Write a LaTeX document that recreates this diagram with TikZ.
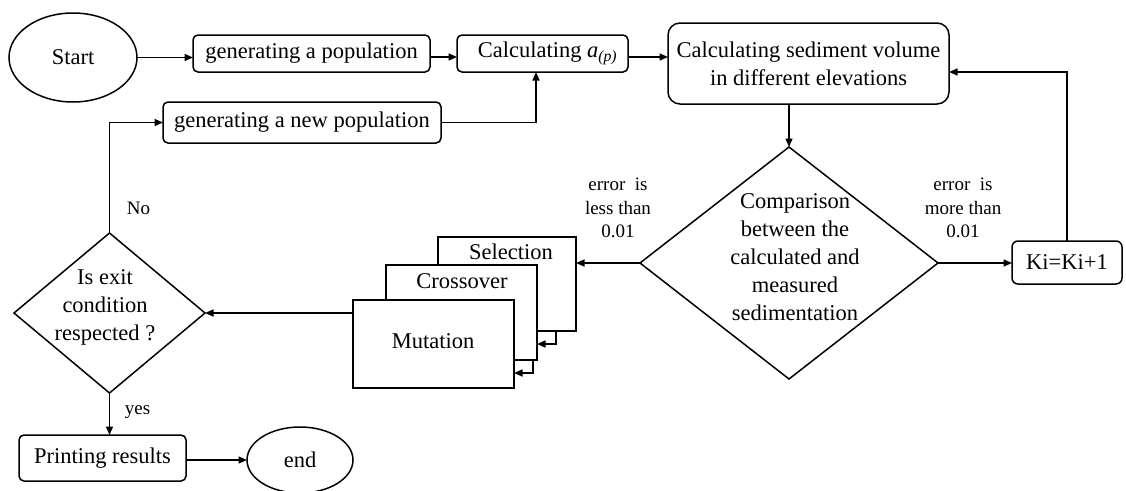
\documentclass[tikz,border=0pt]{standalone}
\usepackage{fontspec}
\setmainfont{Liberation Serif}
\usetikzlibrary{shapes.geometric,arrows.meta,calc}
\begin{document}
\begin{tikzpicture}[x=1pt,y=-1pt,
  every node/.style={font=\fontsize{22.5}{28}\selectfont, inner sep=0pt, outer sep=0pt},
  box/.style={draw, line width=1.5pt, rounded corners=5pt},
  sq/.style={draw, line width=1.5pt, fill=white},
  ell/.style={draw, ellipse, line width=1.5pt},
  dia/.style={draw, diamond, line width=1.5pt},
  lab/.style={font=\fontsize{19}{23.5}\selectfont, align=center},
  arr/.style={line width=1.5pt, -{Triangle[length=8.5pt,width=7pt]}}]
\clip (0,0) rectangle (1126,490);
% top row
\node[ell, minimum width=128pt, minimum height=89pt] (start) at (73,57.5) {Start};
\node[box, minimum width=237pt, minimum height=37pt] (gen) at (311.5,53.5) {generating a population};
\node[box, minimum width=171pt, minimum height=37pt] (calc) at (542.5,53.5) {\hspace{10pt}Calculating \textit{a}\textsubscript{\textit{(p)}}};
\node[box, rounded corners=12pt, minimum width=281pt, minimum height=81pt, align=center] (sed) at (808.5,63.5) {Calculating sediment volume\\in different elevations};
\node[box, minimum width=278pt, minimum height=41pt] (newpop) at (302,122.5) {generating a new population};
% comparison
\node[dia, minimum width=298pt, minimum height=232pt] (cmp) at (789,263) {};
\node[align=center] (cmptxt) at (795,257) {Comparison\\between the\\calculated and\\measured\\sedimentation};
\node[box, rounded corners=6pt, minimum width=110pt, minimum height=43pt] (ki) at (1067,262.5) {Ki=Ki+1};
% GA operators
\node[sq, minimum width=138pt, minimum height=94pt] (sel) at (507,284) {};
\node (seltxt) at (511,252) {Selection};
\node[sq, minimum width=151pt, minimum height=95pt] (cro) at (461.5,312.5) {};
\node (crotxt) at (462,281) {Crossover};
\node[sq, minimum width=161pt, minimum height=88pt] (mut) at (433.5,344) {};
\node (muttxt) at (433,341) {Mutation};
% exit
\node[dia, minimum width=191pt, minimum height=160pt] (exit) at (109.5,313) {};
\node[align=center] (exittxt) at (105,307) {Is exit\\condition\\respected ?};
\node[box, minimum width=167pt, minimum height=46pt] (prn) at (102.5,458) {Printing results};
\node[ell, minimum width=106pt, minimum height=66pt] (end) at (300,460) {end};
% labels
\node[lab] (lless) at (618,208) {error~ is\\less than\\0.01};
\node[lab] (lmore) at (963,208) {error~ is\\more than\\0.01};
% connectors
\draw[arr] (start.east) -- (start.east -| gen.west);
\draw[arr] ([yshift=-3.5pt]gen.east) -- ([yshift=-3.5pt]calc.west);
\draw[arr] ([yshift=-3.5pt]calc.east) -- ([yshift=-3.5pt]calc.east -| sed.west);
\draw[arr] (newpop.east) -| ([xshift=-6.5pt]calc.south);
\draw[arr] (cmp.north |- sed.south) -- (cmp.north);
\draw[arr] (cmp.east) -- (cmp.east -| ki.west);
\draw[arr] (ki.north) |- ([yshift=-8.5pt]sed.east);
\draw[arr] (cmp.west) -- (cmp.west -| sel.east);
\draw[arr] ([xshift=-20pt]sel.south east) |- ([yshift=-31.5pt]cro.east);
\draw[arr] ([xshift=-4pt]cro.south east) |- ([yshift=-29pt]mut.east);
\draw[arr] (exit.east -| mut.west) -- (exit.east);
\draw[arr] (exit.north) -- node[lab, pos=0.22, xshift=29pt] {No} (exit.north |- newpop.west) -- (newpop.west);
\draw[arr] (exit.south) -- node[lab, pos=0.45, xshift=28pt] {yes} (exit.south |- prn.north);
\draw[arr] ([yshift=-2pt]prn.east) -- ([yshift=-2pt]prn.east -| end.west);
\end{tikzpicture}
\end{document}
